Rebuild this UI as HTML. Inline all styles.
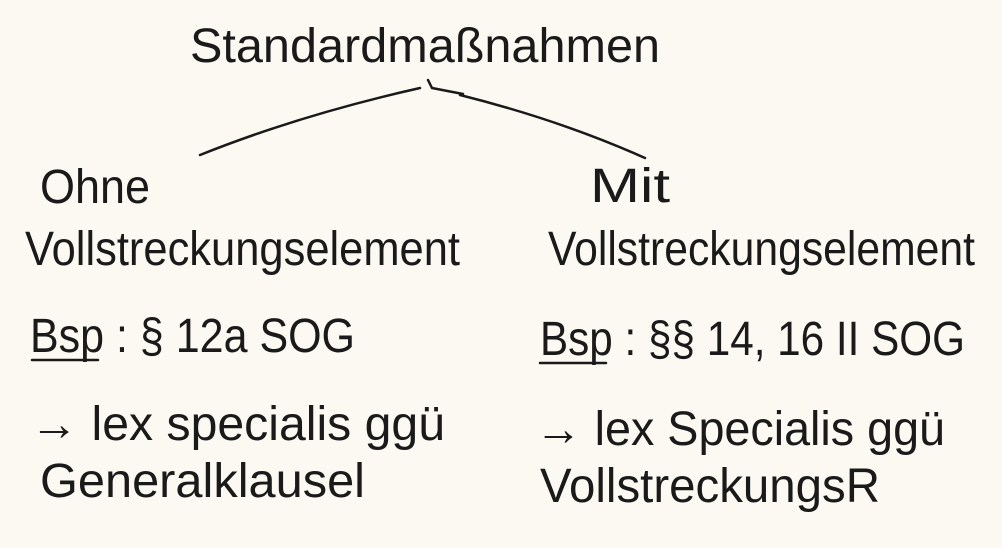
<!DOCTYPE html>
<html><head><meta charset="utf-8"><style>
html,body{margin:0;padding:0;background:#fbf9f2;}
svg{display:block}
text{font-family:"Liberation Sans",sans-serif;fill:#1a1a1a;font-size:48px;}
</style></head><body>
<svg width="1002" height="548" viewBox="0 0 1002 548" xmlns="http://www.w3.org/2000/svg">
<rect width="1002" height="548" fill="#fbf9f2"/>
<g stroke="#1a1a1a" stroke-width="2.5" fill="none" stroke-linecap="round">
<path d="M200 155 Q300 115 420 88"/>
<path d="M428 80 L432 88 L463 94"/>
<path d="M460 95 Q560 120 645 158"/>
<path d="M32 360 L98 360"/>
<path d="M540 363 L606 363"/>
</g>
<text x="190" y="62" textLength="470" lengthAdjust="spacingAndGlyphs">Standardmaßnahmen</text>
<text x="40" y="203" textLength="110" lengthAdjust="spacingAndGlyphs">Ohne</text>
<text x="25" y="265" textLength="435" lengthAdjust="spacingAndGlyphs">Vollstreckungselement</text>
<text x="30" y="352" textLength="325" lengthAdjust="spacingAndGlyphs">Bsp : § 12a SOG</text>
<text x="30" y="440" textLength="415" lengthAdjust="spacingAndGlyphs">→ lex specialis ggü</text>
<text x="40" y="497" textLength="325" lengthAdjust="spacingAndGlyphs">Generalklausel</text>
<text x="590" y="202" textLength="80" lengthAdjust="spacingAndGlyphs">Mit</text>
<text x="548" y="265" textLength="427" lengthAdjust="spacingAndGlyphs">Vollstreckungselement</text>
<text x="540" y="355" textLength="425" lengthAdjust="spacingAndGlyphs">Bsp : §§ 14, 16 II SOG</text>
<text x="535" y="445" textLength="410" lengthAdjust="spacingAndGlyphs">→ lex Specialis ggü</text>
<text x="540" y="502" textLength="340" lengthAdjust="spacingAndGlyphs">VollstreckungsR</text>
</svg>
</body></html>
